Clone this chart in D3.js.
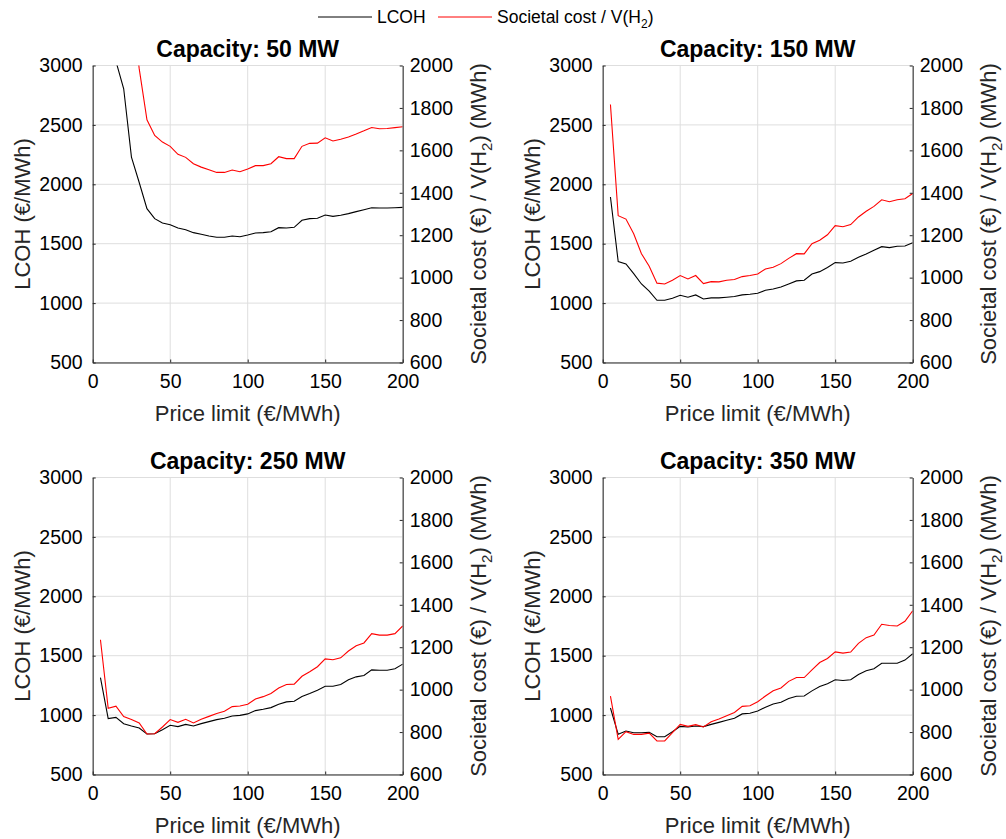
<!DOCTYPE html>
<html>
<head>
<meta charset="utf-8">
<script src="https://cdn.jsdelivr.net/npm/d3@7"></script>
<style>
  html, body { margin: 0; padding: 0; background: #fff; }
  svg { display: block; font-family: "Liberation Sans", Arial, sans-serif; }
</style>
</head>
<body>
<svg id="chart" width="1006" height="839"></svg>
<script>
// Price limit (€/MWh) at which each scenario was evaluated
const priceLimits = [5,10,15,20,25,30,35,40,45,50,55,60,65,70,75,80,85,90,95,100,
                     105,110,115,120,125,130,135,140,145,150,155,160,165,170,175,180,185,190,195,200];

const capacities = ["50 MW", "150 MW", "250 MW", "350 MW"];

// LCOH (€/MWh), left axis
const lcoh50  = [5500,4000,3035,2804,2229,2015,1795,1711,1674,1660,1632,1618,1593,1579,1565,1554,1554,1565,1559,1573,
                 1590,1593,1601,1635,1632,1638,1697,1711,1714,1742,1730,1739,1753,1770,1786,1803,1800,1800,1803,1806];
const lcoh150 = [1893,1349,1330,1248,1161,1100,1024,1024,1041,1066,1049,1069,1035,1044,1044,1049,1055,1069,1075,1083,
                 1108,1119,1136,1161,1187,1192,1245,1265,1299,1341,1338,1352,1386,1414,1445,1475,1467,1478,1481,1509];
const lcoh250 = [1316,970,981,928,908,891,841,843,877,914,903,922,908,928,945,962,973,993,998,1010,
                 1038,1049,1063,1091,1111,1117,1156,1181,1209,1243,1243,1257,1297,1322,1333,1381,1378,1378,1390,1429];
const lcoh350 = [1060,838,866,852,852,855,818,818,860,905,900,908,903,922,939,956,973,1010,1015,1035,
                 1066,1094,1108,1139,1159,1161,1204,1240,1263,1297,1291,1297,1342,1373,1390,1437,1437,1437,1463,1516];

// Societal cost (€) / V(H2) (MWh), right axis
const soc50  = [3600,3000,2700,2450,2300,1985,1744,1670,1639,1619,1581,1567,1537,1521,1509,1496,1496,1507,1499,1512,
                1528,1528,1537,1570,1561,1561,1619,1633,1634,1659,1644,1652,1663,1677,1692,1708,1702,1703,1707,1711];
const soc150 = [1816,1292,1276,1207,1113,1054,974,970,988,1010,994,1010,972,981,980,988,991,1005,1010,1017,
                1041,1049,1066,1091,1113,1112,1160,1176,1202,1245,1240,1250,1286,1313,1336,1367,1358,1367,1372,1397];
const soc250 = [1235,912,922,873,859,843,791,792,824,859,846,860,843,860,874,888,898,920,923,931,
                956,967,982,1008,1024,1026,1063,1084,1108,1145,1141,1150,1182,1207,1220,1264,1257,1257,1264,1300];
const soc350 = [969,766,802,789,789,795,758,758,797,836,827,835,824,849,862,877,892,921,924,943,
                970,995,1008,1039,1057,1057,1093,1128,1147,1178,1172,1177,1218,1245,1257,1308,1302,1300,1322,1372];

const xTicks = [0, 50, 100, 150, 200];
const leftTicks = [500, 1000, 1500, 2000, 2500, 3000];
const rightTicks = [600, 800, 1000, 1200, 1400, 1600, 1800, 2000];

const lcohSeries = [lcoh50, lcoh150, lcoh250, lcoh350];
const socSeries = [soc50, soc150, soc250, soc350];

const svg = d3.select("#chart");
const axisColor = "#262626";
const gridColor = "#dedede";
const tickFont = 19.5;
const labelFont = 22;
const fmt = d3.format("d");

// plot-box geometry for the 2x2 layout
const boxW = 310, boxH = 297;
const lefts = [92.7, 602.7];
const tops = [65.5, 477.5];

capacities.forEach((cap, i) => {
  const left = lefts[i % 2];
  const top = tops[Math.floor(i / 2)];
  const g = svg.append("g").attr("transform", `translate(${left},${top})`);

  const x = d3.scaleLinear().domain([0, 200]).range([0, boxW]);
  const yL = d3.scaleLinear().domain([500, 3000]).range([boxH, 0]);
  const yR = d3.scaleLinear().domain([600, 2000]).range([boxH, 0]);

  // grid
  g.append("g").selectAll("line").data(xTicks).join("line")
    .attr("x1", d => x(d)).attr("x2", d => x(d))
    .attr("y1", 0).attr("y2", boxH)
    .attr("stroke", gridColor).attr("stroke-width", 1);
  g.append("g").selectAll("line").data(leftTicks).join("line")
    .attr("x1", 0).attr("x2", boxW)
    .attr("y1", d => yL(d)).attr("y2", d => yL(d))
    .attr("stroke", gridColor).attr("stroke-width", 1);

  // clip region for the data lines
  const clipId = "clip" + i;
  g.append("clipPath").attr("id", clipId)
    .append("rect").attr("x", 0).attr("y", 0).attr("width", boxW).attr("height", boxH);

  const data = priceLimits.map((p, k) => ({ p, l: lcohSeries[i][k], s: socSeries[i][k] }));

  g.append("path").datum(data)
    .attr("clip-path", `url(#${clipId})`)
    .attr("fill", "none").attr("stroke", "#000").attr("stroke-width", 1.1)
    .attr("d", d3.line().x(d => x(d.p)).y(d => yL(d.l)));

  g.append("path").datum(data)
    .attr("clip-path", `url(#${clipId})`)
    .attr("fill", "none").attr("stroke", "#ff0000").attr("stroke-width", 1.1)
    .attr("d", d3.line().x(d => x(d.p)).y(d => yR(d.s)));

  // axes
  const styleAxis = sel => {
    sel.select(".domain").attr("stroke", axisColor);
    sel.selectAll(".tick line").attr("stroke", axisColor);
    sel.selectAll(".tick text").attr("fill", "#000").style("font-size", tickFont + "px")
      .style("font-family", '"Liberation Sans", Arial, sans-serif');
  };

  g.append("g").attr("transform", `translate(0,${boxH})`)
    .call(d3.axisBottom(x).tickValues(xTicks).tickFormat(fmt).tickSizeInner(-3).tickSizeOuter(0).tickPadding(12))
    .call(styleAxis);

  g.append("g")
    .call(d3.axisLeft(yL).tickValues(leftTicks).tickFormat(fmt).tickSizeInner(-3).tickSizeOuter(0).tickPadding(10))
    .call(styleAxis);

  g.append("g").attr("transform", `translate(${boxW},0)`)
    .call(d3.axisRight(yR).tickValues(rightTicks).tickFormat(fmt).tickSizeInner(-3).tickSizeOuter(0).tickPadding(7))
    .call(styleAxis);

  // title
  g.append("text")
    .attr("x", boxW / 2).attr("y", -9)
    .attr("text-anchor", "middle")
    .style("font-size", "23px").style("font-weight", "bold")
    .text("Capacity: " + cap);

  // x label
  g.append("text")
    .attr("x", boxW / 2).attr("y", boxH + 58)
    .attr("text-anchor", "middle")
    .style("font-size", labelFont + "px").attr("fill", "#262626")
    .text("Price limit (€/MWh)");

  // left label
  g.append("text")
    .attr("transform", `translate(${-63},${boxH / 2}) rotate(-90)`)
    .attr("text-anchor", "middle")
    .style("font-size", labelFont + "px").attr("fill", "#262626")
    .text("LCOH (€/MWh)");

  // right label with subscript
  const rl = g.append("text")
    .attr("transform", `translate(${boxW + 83},${boxH / 2}) rotate(-90)`)
    .attr("text-anchor", "middle")
    .style("font-size", labelFont + "px").attr("fill", "#262626");
  rl.append("tspan").text("Societal cost (€) / V(H");
  rl.append("tspan").attr("dy", 6).style("font-size", "15px").text("2");
  rl.append("tspan").attr("dy", -6).text(") (MWh)");
});

// legend
const legend = svg.append("g");
const legendItems = [
  { label: "LCOH", color: "#000", x: 318 },
  { label: "Societal cost / V(H", sub: "2", tail: ")", color: "#ff0000", x: 438 }
];
legendItems.forEach(it => {
  legend.append("line")
    .attr("x1", it.x).attr("x2", it.x + 54)
    .attr("y1", 17).attr("y2", 17)
    .attr("stroke", it.color).attr("stroke-width", 1);
  const t = legend.append("text")
    .attr("x", it.x + 59).attr("y", 23)
    .style("font-size", "17.5px").attr("fill", "#000");
  t.append("tspan").text(it.label);
  if (it.sub) {
    t.append("tspan").attr("dy", 5).style("font-size", "12px").text(it.sub);
    t.append("tspan").attr("dy", -5).text(it.tail);
  }
});
</script>
</body>
</html>
